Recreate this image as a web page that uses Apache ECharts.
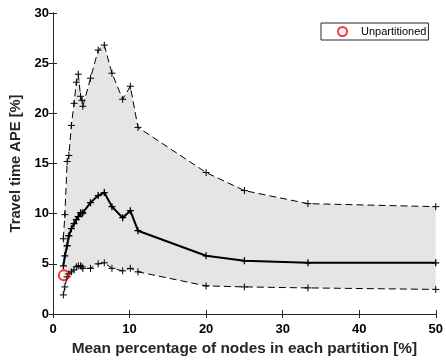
<!DOCTYPE html>
<html>
<head>
<meta charset="utf-8">
<script src="https://cdn.jsdelivr.net/npm/echarts@6/dist/echarts.min.js"></script>
<style>
  html, body { margin: 0; padding: 0; background: #fff; }
  #chart { width: 446px; height: 363px; }
</style>
</head>
<body>
<div id="chart"></div>
<script>
// mean percentage of nodes per partition [%]
const nodePct = [1.35, 1.55, 1.85, 2.07, 2.4, 2.75, 3.05, 3.3, 3.6, 3.8, 3.9, 4.9, 5.9, 6.7, 7.7, 9.1, 10.1, 11.1, 20, 25, 33.3, 50];
// travel time APE [%]
const apeUpper = [7.5, 9.9, 15.2, 15.8, 18.8, 21.0, 23.1, 23.9, 21.7, 21.3, 20.7, 23.5, 26.3, 26.8, 24.0, 21.4, 22.7, 18.6, 14.1, 12.3, 11.0, 10.7];
const apeMean  = [4.8, 5.8, 6.8, 7.8, 8.5, 9.0, 9.4, 9.7, 10.1, 10.0, 10.1, 11.1, 11.8, 12.1, 10.7, 9.6, 10.3, 8.3, 5.8, 5.3, 5.1, 5.1];
const apeLower = [1.9, 2.7, 3.7, 4.0, 4.2, 4.4, 4.7, 4.8, 4.8, 4.7, 4.55, 4.55, 5.0, 5.1, 4.55, 4.3, 4.55, 4.2, 2.8, 2.7, 2.6, 2.45];
const unpartX = [1.42];
const unpartY = [3.85];

const xRange = [0, 50, 10];
const yRange = [0, 30, 5];

const plus = 'path://M5,0L5,10M0,5L10,5';
const axisColor = '#262626';
const font = 'Liberation Sans, Arial, sans-serif';

const tickLabel = { color: '#000', fontFamily: font, fontWeight: 'bold', fontSize: 13 };
const nameText = { color: '#262626', fontFamily: font, fontWeight: 'bold' };

const baseAxis = (range) => ({
  type: 'value',
  min: range[0],
  max: range[1],
  interval: range[2],
  splitLine: { show: false },
  axisLine: { show: true, lineStyle: { color: axisColor, width: 1 } },
  axisTick: { show: true, inside: true, length: 4, lineStyle: { color: axisColor } }
});

const chart = echarts.init(document.getElementById('chart'));

chart.setOption({
  animation: false,
  backgroundColor: '#fff',
  grid: { left: 53, right: 7, top: 13, bottom: 49 },
  legend: {
    data: ['Unpartitioned'],
    left: 321,
    top: 23,
    orient: 'horizontal',
    padding: [3, 2, 3, 16],
    itemWidth: 27,
    itemHeight: 9,
    borderColor: '#262626',
    borderWidth: 1,
    backgroundColor: '#fff',
    textStyle: { color: '#000', fontFamily: font, fontSize: 11 }
  },
  xAxis: [
    {
      ...baseAxis(xRange),
      position: 'bottom',
      name: 'Mean percentage of nodes in each partition [%]',
      nameLocation: 'middle',
      nameGap: 22,
      nameTextStyle: { ...nameText, fontSize: 15.4 },
      axisLabel: { ...tickLabel, margin: 9 }
    },
    {
      ...baseAxis(xRange),
      position: 'top',
      axisLabel: { show: false }
    }
  ],
  yAxis: [
    {
      ...baseAxis(yRange),
      position: 'left',
      name: 'Travel time APE [%]',
      nameLocation: 'middle',
      nameGap: 26,
      nameTextStyle: { ...nameText, fontSize: 14.7 },
      axisLabel: { ...tickLabel, margin: 4 }
    },
    {
      ...baseAxis(yRange),
      position: 'right',
      axisLabel: { show: false }
    }
  ],
  series: [
    {
      name: 'band',
      type: 'custom',
      silent: true,
      z: 1,
      data: nodePct.map((x, i) => [x, apeLower[i], apeUpper[i]]),
      encode: { x: 0, y: [1, 2] },
      renderItem: (params, api) => {
        if (params.dataIndex !== 0) return null;
        const pts = nodePct.map((x, i) => api.coord([x, apeUpper[i]]));
        for (let i = nodePct.length - 1; i >= 0; i--) pts.push(api.coord([nodePct[i], apeLower[i]]));
        return { type: 'polygon', shape: { points: pts }, style: { fill: '#e5e5e5' } };
      }
    },
    {
      name: 'upper',
      type: 'line',
      z: 3,
      data: nodePct.map((x, i) => [x, apeUpper[i]]),
      symbol: plus,
      symbolSize: 7,
      showAllSymbol: true,
      itemStyle: { color: 'transparent', borderColor: '#000', borderWidth: 1 },
      lineStyle: { color: '#000', width: 1, type: [7, 4] }
    },
    {
      name: 'lower',
      type: 'line',
      z: 3,
      data: nodePct.map((x, i) => [x, apeLower[i]]),
      symbol: plus,
      symbolSize: 7,
      showAllSymbol: true,
      itemStyle: { color: 'transparent', borderColor: '#000', borderWidth: 1 },
      lineStyle: { color: '#000', width: 1, type: [7, 4] }
    },
    {
      name: 'mean',
      type: 'line',
      z: 4,
      data: nodePct.map((x, i) => [x, apeMean[i]]),
      symbol: plus,
      symbolSize: 7,
      showAllSymbol: true,
      itemStyle: { color: 'transparent', borderColor: '#000', borderWidth: 1.3 },
      lineStyle: { color: '#000', width: 2 }
    },
    {
      name: 'Unpartitioned',
      type: 'scatter',
      z: 5,
      data: unpartX.map((x, i) => [x, unpartY[i]]),
      symbol: 'circle',
      symbolSize: 10,
      itemStyle: { color: 'transparent', borderColor: '#ff0000', borderWidth: 2 }
    }
  ]
});
</script>
</body>
</html>
